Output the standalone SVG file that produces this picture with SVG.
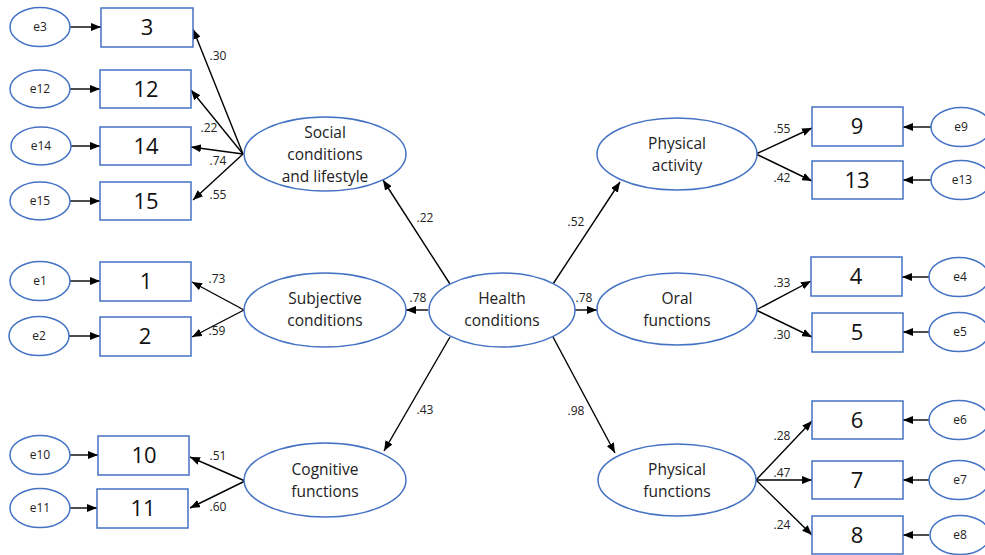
<svg xmlns="http://www.w3.org/2000/svg" width="985" height="555" viewBox="0 0 985 555">
  <style>
    .lat { fill: #fff; stroke: #4472C4; stroke-width: 1.5; }
    .box { fill: #fff; stroke: #4472C4; stroke-width: 1.5; }
    .err { fill: #fff; stroke: #4472C4; stroke-width: 1.5; }
    .edge { stroke: #000; stroke-width: 1.4; fill: none; marker-end: url(#ah); }
    .lt { font-family: "Open Sans", "Liberation Sans", sans-serif; font-size: 15.5px; fill: #222; text-anchor: middle; }
    .bt { font-family: "Open Sans", "Liberation Sans", sans-serif; font-size: 22px; fill: #111; text-anchor: middle; }
    .et { font-family: "Open Sans", "Liberation Sans", sans-serif; font-size: 12px; fill: #222; text-anchor: middle; }
    .wt { font-family: "Open Sans", "Liberation Sans", sans-serif; font-size: 12px; fill: #222; text-anchor: middle; }
  </style>
  <defs>
    <marker id="ah" viewBox="0 0 10 8" refX="10" refY="4" markerWidth="10" markerHeight="8" markerUnits="userSpaceOnUse" orient="auto">
      <path d="M0,0 L10,4 L0,8 Z" fill="#000"/>
    </marker>
  </defs>
  <rect width="985" height="555" fill="#fff"/>

  <!-- connectors -->
  <g id="connectors">
    <!-- error terms to indicators (left) -->
    <line class="edge" x1="70" y1="27" x2="101" y2="27"/>
    <line class="edge" x1="70" y1="89" x2="100" y2="89"/>
    <line class="edge" x1="70" y1="146" x2="100" y2="146"/>
    <line class="edge" x1="70" y1="201" x2="100" y2="201"/>
    <line class="edge" x1="70" y1="281" x2="100" y2="281"/>
    <line class="edge" x1="69" y1="336" x2="100" y2="336"/>
    <line class="edge" x1="70" y1="455" x2="98" y2="455"/>
    <line class="edge" x1="70" y1="508" x2="97" y2="508"/>
    <!-- error terms to indicators (right) -->
    <line class="edge" x1="931" y1="127" x2="903" y2="127"/>
    <line class="edge" x1="931" y1="180" x2="903" y2="180"/>
    <line class="edge" x1="929" y1="277" x2="902" y2="277"/>
    <line class="edge" x1="929" y1="332" x2="903" y2="332"/>
    <line class="edge" x1="929" y1="420" x2="903" y2="420"/>
    <line class="edge" x1="929" y1="480" x2="903" y2="480"/>
    <line class="edge" x1="929" y1="535" x2="903" y2="535"/>
    <!-- social conditions loadings -->
    <line class="edge" x1="243" y1="154" x2="193" y2="29"/>
    <line class="edge" x1="243" y1="154" x2="191" y2="90"/>
    <line class="edge" x1="243" y1="154" x2="191" y2="147"/>
    <line class="edge" x1="243" y1="154" x2="193" y2="200"/>
    <!-- subjective conditions loadings -->
    <line class="edge" x1="244" y1="310" x2="192" y2="282"/>
    <line class="edge" x1="244" y1="310" x2="192" y2="337"/>
    <!-- cognitive functions loadings -->
    <line class="edge" x1="245" y1="481" x2="190" y2="457"/>
    <line class="edge" x1="245" y1="481" x2="190" y2="508"/>
    <!-- physical activity loadings -->
    <line class="edge" x1="756" y1="154" x2="812" y2="128"/>
    <line class="edge" x1="756" y1="154" x2="812" y2="181"/>
    <!-- oral functions loadings -->
    <line class="edge" x1="756" y1="310" x2="811" y2="281"/>
    <line class="edge" x1="756" y1="310" x2="812" y2="337"/>
    <!-- physical functions loadings -->
    <line class="edge" x1="756" y1="480" x2="812" y2="421"/>
    <line class="edge" x1="756" y1="480" x2="812" y2="480"/>
    <line class="edge" x1="756" y1="480" x2="812" y2="535"/>
    <!-- second-order factor paths -->
    <line class="edge" x1="450" y1="284" x2="383" y2="180"/>
    <line class="edge" x1="428" y1="310" x2="406" y2="310"/>
    <line class="edge" x1="450" y1="337" x2="384" y2="451"/>
    <line class="edge" x1="553" y1="284" x2="620" y2="182"/>
    <line class="edge" x1="575" y1="310" x2="597" y2="310"/>
    <line class="edge" x1="553" y1="337" x2="615" y2="453"/>
  </g>

  <!-- path coefficients -->
  <g id="weights">
    <text class="wt" x="218" y="60">.30</text>
    <text class="wt" x="209" y="132">.22</text>
    <text class="wt" x="218" y="165">.74</text>
    <text class="wt" x="218" y="199">.55</text>
    <text class="wt" x="217" y="283">.73</text>
    <text class="wt" x="217" y="335">.59</text>
    <text class="wt" x="218" y="460">.51</text>
    <text class="wt" x="218" y="511">.60</text>
    <text class="wt" x="425" y="222">.22</text>
    <text class="wt" x="418" y="302">.78</text>
    <text class="wt" x="425" y="414">.43</text>
    <text class="wt" x="576" y="226">.52</text>
    <text class="wt" x="584" y="302">.78</text>
    <text class="wt" x="576" y="415">.98</text>
    <text class="wt" x="782" y="133">.55</text>
    <text class="wt" x="782" y="182">.42</text>
    <text class="wt" x="782" y="287">.33</text>
    <text class="wt" x="782" y="339">.30</text>
    <text class="wt" x="782" y="440">.28</text>
    <text class="wt" x="782" y="477">.47</text>
    <text class="wt" x="782" y="529">.24</text>
  </g>

  <!-- latent factors -->
  <g id="health">
    <ellipse class="lat" cx="502" cy="310" rx="73" ry="37"/>
    <text class="lt" x="502" y="304">Health</text>
    <text class="lt" x="502" y="326">conditions</text>
  </g>
  <g id="social">
    <ellipse class="lat" cx="325" cy="154" rx="81" ry="37"/>
    <text class="lt" x="325" y="138">Social</text>
    <text class="lt" x="325" y="160">conditions</text>
    <text class="lt" x="325" y="182">and lifestyle</text>
  </g>
  <g id="subjective">
    <ellipse class="lat" cx="325" cy="310" rx="81" ry="37"/>
    <text class="lt" x="325" y="304">Subjective</text>
    <text class="lt" x="325" y="326">conditions</text>
  </g>
  <g id="cognitive">
    <ellipse class="lat" cx="325" cy="480" rx="81" ry="37"/>
    <text class="lt" x="325" y="475">Cognitive</text>
    <text class="lt" x="325" y="497">functions</text>
  </g>
  <g id="physical-activity">
    <ellipse class="lat" cx="677" cy="154" rx="80" ry="36"/>
    <text class="lt" x="677" y="149">Physical</text>
    <text class="lt" x="677" y="171">activity</text>
  </g>
  <g id="oral">
    <ellipse class="lat" cx="677" cy="309" rx="80" ry="36"/>
    <text class="lt" x="677" y="304">Oral</text>
    <text class="lt" x="677" y="326">functions</text>
  </g>
  <g id="physical-functions">
    <ellipse class="lat" cx="677" cy="480" rx="79" ry="36"/>
    <text class="lt" x="677" y="475">Physical</text>
    <text class="lt" x="677" y="497">functions</text>
  </g>

  <!-- observed indicators (left) -->
  <g id="item3"><rect class="box" x="101" y="8" width="92" height="39"/><text class="bt" x="147" y="35">3</text></g>
  <g id="item12"><rect class="box" x="100" y="70" width="91" height="38"/><text class="bt" x="146" y="97">12</text></g>
  <g id="item14"><rect class="box" x="100" y="127" width="91" height="38"/><text class="bt" x="146" y="154">14</text></g>
  <g id="item15"><rect class="box" x="100" y="182" width="91" height="38"/><text class="bt" x="146" y="209">15</text></g>
  <g id="item1"><rect class="box" x="100" y="262" width="91" height="39"/><text class="bt" x="146" y="289">1</text></g>
  <g id="item2"><rect class="box" x="100" y="317" width="91" height="39"/><text class="bt" x="145" y="344">2</text></g>
  <g id="item10"><rect class="box" x="98" y="436" width="91" height="39"/><text class="bt" x="144" y="463">10</text></g>
  <g id="item11"><rect class="box" x="97" y="489" width="91" height="39"/><text class="bt" x="143" y="516">11</text></g>

  <!-- observed indicators (right) -->
  <g id="item9"><rect class="box" x="812" y="107" width="91" height="39"/><text class="bt" x="857" y="134">9</text></g>
  <g id="item13"><rect class="box" x="812" y="161" width="91" height="38"/><text class="bt" x="857" y="188">13</text></g>
  <g id="item4"><rect class="box" x="811" y="257" width="91" height="39"/><text class="bt" x="856" y="284">4</text></g>
  <g id="item5"><rect class="box" x="812" y="313" width="91" height="39"/><text class="bt" x="857" y="340">5</text></g>
  <g id="item6"><rect class="box" x="812" y="401" width="91" height="38"/><text class="bt" x="857" y="428">6</text></g>
  <g id="item7"><rect class="box" x="812" y="461" width="91" height="38"/><text class="bt" x="857" y="488">7</text></g>
  <g id="item8"><rect class="box" x="812" y="516" width="91" height="38"/><text class="bt" x="857" y="543">8</text></g>

  <!-- error terms (left) -->
  <g id="e3"><ellipse class="err" cx="40" cy="27" rx="30" ry="19.5"/><text class="et" x="40" y="31">e3</text></g>
  <g id="e12"><ellipse class="err" cx="40" cy="89" rx="30" ry="19"/><text class="et" x="40" y="93">e12</text></g>
  <g id="e14"><ellipse class="err" cx="41" cy="146" rx="30" ry="19"/><text class="et" x="41" y="150">e14</text></g>
  <g id="e15"><ellipse class="err" cx="40" cy="201" rx="30" ry="19"/><text class="et" x="40" y="205">e15</text></g>
  <g id="e1"><ellipse class="err" cx="40" cy="281" rx="30" ry="19.5"/><text class="et" x="40" y="285">e1</text></g>
  <g id="e2"><ellipse class="err" cx="39" cy="336" rx="30" ry="19.5"/><text class="et" x="39" y="340">e2</text></g>
  <g id="e10"><ellipse class="err" cx="40" cy="455" rx="30" ry="19.5"/><text class="et" x="40" y="459">e10</text></g>
  <g id="e11"><ellipse class="err" cx="40" cy="508" rx="30" ry="19.5"/><text class="et" x="40" y="512">e11</text></g>

  <!-- error terms (right) -->
  <g id="e9"><ellipse class="err" cx="961" cy="127" rx="30" ry="19.5"/><text class="et" x="961" y="131">e9</text></g>
  <g id="e13"><ellipse class="err" cx="961" cy="180" rx="30" ry="19.5"/><text class="et" x="962" y="184">e13</text></g>
  <g id="e4"><ellipse class="err" cx="959" cy="277" rx="30" ry="19.5"/><text class="et" x="960" y="281">e4</text></g>
  <g id="e5"><ellipse class="err" cx="959" cy="332" rx="30" ry="19.5"/><text class="et" x="960" y="336">e5</text></g>
  <g id="e6"><ellipse class="err" cx="959" cy="420" rx="30" ry="19.5"/><text class="et" x="960" y="424">e6</text></g>
  <g id="e7"><ellipse class="err" cx="959" cy="480" rx="30" ry="19.5"/><text class="et" x="960" y="484">e7</text></g>
  <g id="e8"><ellipse class="err" cx="960" cy="535" rx="30" ry="19.5"/><text class="et" x="960" y="539">e8</text></g>
</svg>
